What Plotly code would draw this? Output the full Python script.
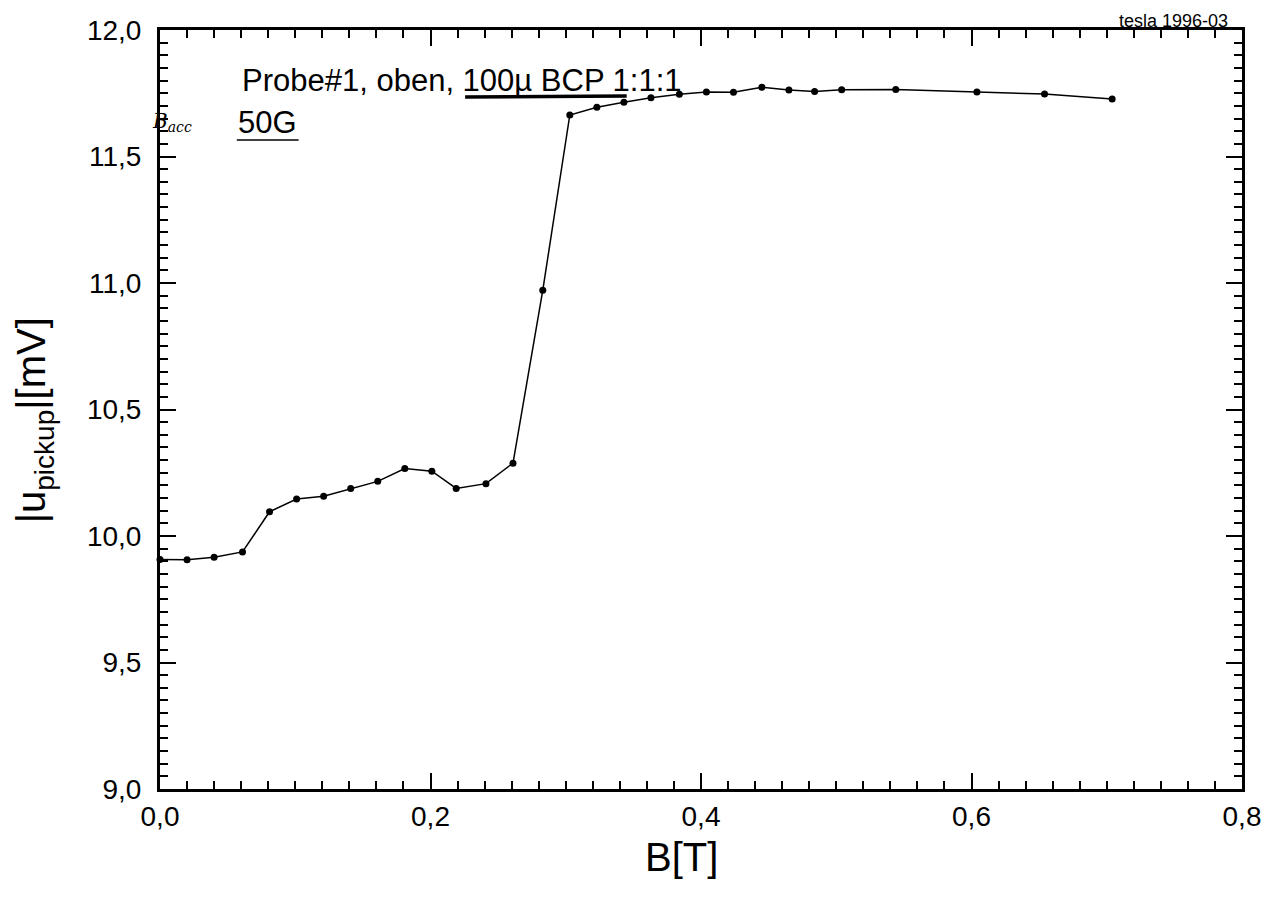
import plotly.graph_objects as go

# Pickup signal vs. applied field, sample #1 (top), 100 µm BCP 1:1:1
b_field = [0.0, 0.02, 0.04, 0.061, 0.081, 0.101, 0.121, 0.141, 0.161, 0.181,
           0.201, 0.219, 0.241, 0.261, 0.283, 0.303, 0.323, 0.343, 0.363, 0.384,
           0.404, 0.424, 0.445, 0.465, 0.484, 0.504, 0.544, 0.604, 0.654, 0.704]
u_pickup = [9.907, 9.906, 9.916, 9.937, 10.096, 10.146, 10.157, 10.188, 10.216, 10.267,
            10.256, 10.188, 10.207, 10.288, 10.971, 11.664, 11.695, 11.714, 11.732, 11.746,
            11.755, 11.754, 11.774, 11.763, 11.757, 11.764, 11.765, 11.755, 11.747, 11.727]

x_ticks = [0.0, 0.2, 0.4, 0.6, 0.8]
y_ticks = [9.0, 9.5, 10.0, 10.5, 11.0, 11.5, 12.0]

FONT = "Liberation Sans, Arial, sans-serif"

fig = go.Figure()
fig.add_trace(go.Scatter(
    x=b_field, y=u_pickup, mode="lines+markers",
    line=dict(color="black", width=1.5),
    marker=dict(color="black", size=7),
    cliponaxis=False, showlegend=False,
))

axis_common = dict(
    showgrid=False, zeroline=False,
    showline=True, linecolor="black", linewidth=3,
    mirror="allticks", ticks="inside", ticklen=16, tickwidth=2, tickcolor="black",
    tickfont=dict(family=FONT, size=28, color="black"),
)

fig.update_xaxes(
    range=[0, 0.8], tickvals=x_ticks, tickformat=".1f",
    minor=dict(dtick=0.02, ticks="inside", ticklen=8, tickwidth=2, tickcolor="black"),
    ticklabelstandoff=0,
    **axis_common,
)
fig.update_yaxes(
    range=[9, 12], tickvals=y_ticks, tickformat=".1f",
    minor=dict(dtick=0.05, ticks="inside", ticklen=8, tickwidth=2, tickcolor="black"),
    ticklabelstandoff=10,
    **axis_common,
)

L, R, T, B = 160, 28, 30, 131
W, H = 1273, 920
pw, ph = W - L - R, H - T - B


def px(x):
    return (x - L) / pw


def py(y):
    return 1 - (y - T) / ph


annotations = [
    dict(text="Probe#1, oben, 100µ BCP 1:1:1", x=px(240), y=py(80),
         xanchor="left", yanchor="middle", font=dict(family=FONT, size=31)),
    dict(text="50G", x=px(236), y=py(122),
         xanchor="left", yanchor="middle", font=dict(family=FONT, size=31)),
    dict(text="<i>B<sub>acc</sub></i>", x=px(150), y=py(122),
         xanchor="left", yanchor="middle",
         font=dict(family="DejaVu Serif, serif", size=20)),
    dict(text="tesla 1996-03", x=px(1233), y=py(21),
         xanchor="right", yanchor="middle", font=dict(family=FONT, size=18)),
    dict(text="B[T]", x=px(683), y=py(857),
         xanchor="center", yanchor="middle", font=dict(family=FONT, size=40)),
    dict(text="|u<sub>pickup</sub>|[mV]", x=px(34), y=py(420), textangle=-90,
         xanchor="center", yanchor="middle", font=dict(family=FONT, size=40)),
]
for a in annotations:
    a.update(xref="paper", yref="paper", showarrow=False)
    a["font"]["color"] = "black"

shapes = [
    # pen underline beneath "100µ BCP"
    dict(type="line", xref="paper", yref="paper",
         x0=px(466), x1=px(628), y0=py(97), y1=py(96),
         line=dict(color="black", width=3.5)),
    # underline beneath "50G"
    dict(type="line", xref="paper", yref="paper",
         x0=px(237), x1=px(299), y0=py(140), y1=py(140),
         line=dict(color="black", width=1.5)),
]

fig.update_layout(
    width=W, height=H,
    margin=dict(l=L, r=R, t=T, b=B),
    paper_bgcolor="white", plot_bgcolor="white",
    separators=",.",
    font=dict(family=FONT, color="black"),
    annotations=annotations, shapes=shapes,
)

fig.write_html("out.html")
